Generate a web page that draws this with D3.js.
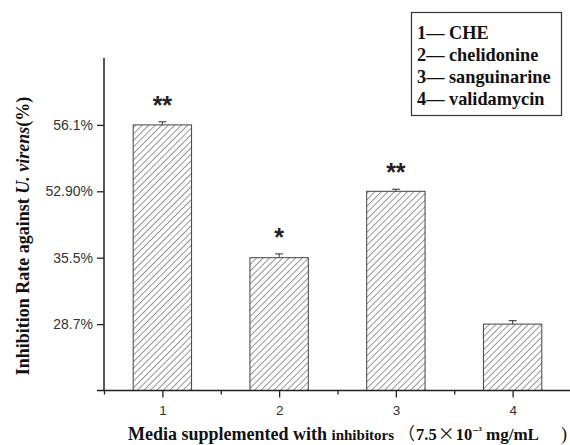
<!DOCTYPE html>
<html>
<head>
<meta charset="utf-8">
<script src="https://cdn.jsdelivr.net/npm/d3@7"></script>
<style>
	body { margin: 0; background: #fff; }
	svg { display: block; }
</style>
</head>
<body>
<div id="chart"></div>
<script>
// data
var groups = [1, 2, 3, 4];
var rates = [56.1, 35.5, 52.9, 28.7];
var errors = [0.15, 1.0, 0.1, 0.35];
var marks = ["**", "*", "**", ""];
var tickValues = [28.7, 35.5, 52.9, 56.1];
var tickLabels = ["28.7%", "35.5%", "52.90%", "56.1%"];
var legendItems = ["1\u2014 CHE", "2\u2014 chelidonine", "3\u2014 sanguinarine", "4\u2014 validamycin"];

var svgWidth = 570;
var svgHeight = 445;

var svg = d3.select("#chart")
	.append("svg")
	.attr("width", svgWidth)
	.attr("height", svgHeight);

// hatch pattern for the bars
var defs = svg.append("defs");
var pat = defs.append("pattern")
	.attr("id", "hatch")
	.attr("patternUnits", "userSpaceOnUse")
	.attr("width", 4.6)
	.attr("height", 4.6)
	.attr("patternTransform", "rotate(45)");
pat.append("rect").attr("width", 4.6).attr("height", 4.6).attr("fill", "#fff");
pat.append("line")
	.attr("x1", 0).attr("y1", 0).attr("x2", 0).attr("y2", 4.6)
	.attr("stroke", "#444")
	.attr("stroke-width", 1.1);

// x scale: category centres, axis runs from 0.5 to 4.5
var xScale = d3.scaleLinear()
	.domain([0.5, 4.5])
	.range([104, 571]);
var step = xScale(2) - xScale(1);
var barWidth = step * 0.5;

// y scale is piecewise: the ticks are evenly spaced, not linear in value
var yBottom = 390.5, yStep = 66.4;
var yDomain = [0].concat(tickValues).concat([59.3]);
var yScale = d3.scaleLinear()
	.domain(yDomain)
	.range(yDomain.map((d, i) => yBottom - i * yStep));

// bars
svg.selectAll("rect.bar")
	.data(rates)
	.enter()
	.append("rect")
	.attr("class", "bar")
	.attr("x", (d, i) => xScale(groups[i]) - barWidth / 2)
	.attr("y", d => yScale(d))
	.attr("width", barWidth)
	.attr("height", d => yBottom - yScale(d))
	.attr("fill", "url(#hatch)")
	.attr("stroke", "#444")
	.attr("stroke-width", 1);

// error bars
var errG = svg.append("g").attr("stroke", "#333").attr("stroke-width", 1);
rates.forEach((d, i) => {
	var cx = xScale(groups[i]);
	errG.append("line")
		.attr("x1", cx).attr("x2", cx)
		.attr("y1", yScale(d)).attr("y2", yScale(d + errors[i]));
	errG.append("line")
		.attr("x1", cx - 4).attr("x2", cx + 4)
		.attr("y1", yScale(d + errors[i])).attr("y2", yScale(d + errors[i]));
});

// significance stars
svg.selectAll("text.star")
	.data(marks)
	.enter()
	.append("text")
	.attr("class", "star")
	.attr("x", (d, i) => xScale(groups[i]))
	.attr("y", (d, i) => yScale(rates[i] + errors[i]) - 22 + 14)
	.attr("text-anchor", "middle")
	.attr("font-family", "Liberation Sans, Arial, sans-serif")
	.attr("font-weight", "bold")
	.attr("font-size", 25)
	.attr("fill", "#222")
	.text(d => d);

// y axis
var leftAxis = d3.axisLeft(yScale)
	.tickValues(tickValues)
	.tickFormat((d, i) => tickLabels[i])
	.tickSize(7)
	.tickSizeOuter(0);
var yAxis = svg.append("g")
	.attr("transform", "translate(104,0)")
	.call(leftAxis);
yAxis.select(".domain").remove();
yAxis.append("line")
	.attr("x1", 0).attr("x2", 0)
	.attr("y1", 58).attr("y2", yBottom)
	.attr("stroke", "#222").attr("stroke-width", 1.5);
yAxis.selectAll(".tick line").attr("stroke", "#222").attr("stroke-width", 1.3);
yAxis.selectAll(".tick text")
	.attr("x", -11)
	.attr("font-family", "Liberation Sans, Arial, sans-serif")
	.attr("font-size", 14)
	.attr("fill", "#333");

// x axis: major ticks at groups, minor ticks between
var xAxisG = svg.append("g");
xAxisG.append("line")
	.attr("x1", 97).attr("x2", 571)
	.attr("y1", yBottom).attr("y2", yBottom)
	.attr("stroke", "#222").attr("stroke-width", 1.5);
var bottomAxis = d3.axisBottom(xScale)
	.tickValues(groups)
	.tickFormat(d3.format("d"))
	.tickSize(7)
	.tickSizeOuter(0);
var xAxis = svg.append("g")
	.attr("transform", `translate(0,${yBottom})`)
	.call(bottomAxis);
xAxis.select(".domain").remove();
xAxis.selectAll(".tick line").attr("stroke", "#222").attr("stroke-width", 1.3);
xAxis.selectAll(".tick text")
	.attr("y", 15)
	.attr("font-family", "Liberation Sans, Arial, sans-serif")
	.attr("font-size", 13.5)
	.attr("fill", "#333");
var minorAxis = d3.axisBottom(xScale)
	.tickValues([0.5, 1.5, 2.5, 3.5, 4.5])
	.tickFormat("")
	.tickSize(4)
	.tickSizeOuter(0);
var xMinor = svg.append("g")
	.attr("transform", `translate(0,${yBottom})`)
	.call(minorAxis);
xMinor.select(".domain").remove();
xMinor.selectAll(".tick line").attr("stroke", "#222").attr("stroke-width", 1.3);

// y axis title
var yTitle = svg.append("text")
	.attr("transform", "translate(29,236) rotate(-90)")
	.attr("text-anchor", "middle")
	.attr("font-family", "Liberation Serif, Times New Roman, serif")
	.attr("font-weight", "bold")
	.attr("font-size", 18)
	.attr("fill", "#111");
yTitle.append("tspan").text("Inhibition Rate against ");
yTitle.append("tspan").attr("font-style", "italic").text("U. virens");
yTitle.append("tspan").text("(%)");

// x axis title
var cjk = "Noto Sans CJK SC";
var xTitle = svg.append("text")
	.attr("x", 128)
	.attr("y", 440)
	.attr("font-family", "Liberation Serif, Times New Roman, serif")
	.attr("font-weight", "bold")
	.attr("font-size", 18)
	.attr("fill", "#111");
xTitle.append("tspan").text("Media supplemented with ");
xTitle.append("tspan").attr("font-size", 15).text("inhibitors");
xTitle.append("tspan").attr("font-family", cjk).attr("font-weight", "normal").attr("font-size", 17).attr("dx", 4).text("\uFF08");
xTitle.append("tspan").attr("font-size", 16.5).attr("dx", 1).text("7.5");
xTitle.append("tspan").attr("font-family", cjk).attr("font-weight", "normal").attr("font-size", 17).attr("dx", 1).text("\u00D7");
xTitle.append("tspan").attr("font-size", 16.5).attr("dx", 1).text("10");
xTitle.append("tspan").attr("font-size", 11).attr("dy", -6).text("\u2212\u00B3");
xTitle.append("tspan").attr("font-size", 17).attr("dy", 6).text(" mg/mL");
xTitle.append("tspan").attr("font-weight", "normal").attr("font-size", 18).attr("dx", 22).text(")");

// legend box
var legend = svg.append("g");
legend.append("rect")
	.attr("x", 411.5).attr("y", 12.5)
	.attr("width", 150).attr("height", 103)
	.attr("fill", "none")
	.attr("stroke", "#333")
	.attr("stroke-width", 1.2);
legend.selectAll("text")
	.data(legendItems)
	.enter()
	.append("text")
	.attr("x", 417)
	.attr("y", (d, i) => 39 + i * 22)
	.attr("font-family", "Liberation Serif, Times New Roman, serif")
	.attr("font-weight", "bold")
	.attr("font-size", 18.3)
	.attr("fill", "#111")
	.text(d => d);
</script>
</body>
</html>
